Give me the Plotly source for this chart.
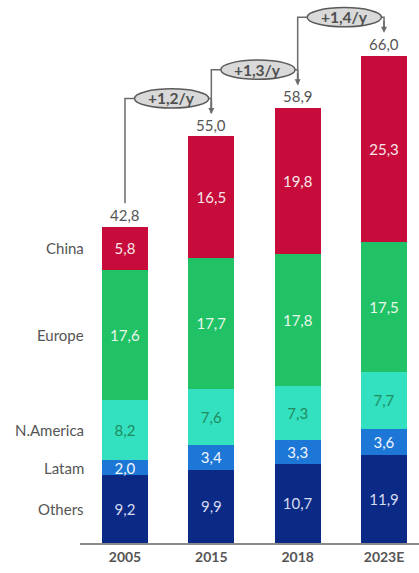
import plotly.graph_objects as go

categories = ["2005", "2015", "2018", "2023E"]
others = [9.2, 9.9, 10.7, 11.9]
latam = [2.0, 3.4, 3.3, 3.6]
namerica = [8.2, 7.6, 7.3, 7.7]
europe = [17.6, 17.7, 17.8, 17.5]
china = [5.8, 16.5, 19.8, 25.3]
totals = [42.8, 55.0, 58.9, 66.0]
growth_labels = ["+1,2/y", "+1,3/y", "+1,4/y"]
series_names = ["Others", "Latam", "N.America", "Europe", "China"]

series = [others, latam, namerica, europe, china]
colors = ["#0B2A85", "#1C77D6", "#33E0BF", "#20C265", "#C70C3B"]
text_colors = ["#D5DBF2", "#F2F6FF", "#1F8C5E", "#EAF7EC", "#F7E6EA"]

FONT = "Lato, 'Open Sans', sans-serif"
fmt = lambda v: f"{v:.1f}".replace(".", ",")

x = list(range(len(categories)))
fig = go.Figure()
for name, vals, col, tcol in zip(series_names, series, colors, text_colors):
    fig.add_trace(go.Bar(
        x=x, y=vals, name=name, marker=dict(color=col, line=dict(width=0)),
        width=0.535, text=[fmt(v) for v in vals], textposition="inside",
        insidetextanchor="middle", textangle=0,
        textfont=dict(color=tcol, size=15, family=FONT),
        constraintext="none", hoverinfo="skip",
    ))

annotations = []
# totals above bars
for i, t in enumerate(totals):
    annotations.append(dict(x=i, y=t, text=fmt(t), showarrow=False, yanchor="bottom",
                            yshift=1, font=dict(size=15, color="#555555", family=FONT)))

# series labels at the left, aligned with the 2005 segments
cum = 0
for name, vals in zip(series_names, series):
    mid = cum + vals[0] / 2
    cum += vals[0]
    annotations.append(dict(x=-0.45, y=mid, text=name, showarrow=False, xanchor="right",
                            font=dict(size=15, color="#555555", family=FONT)))

shapes = []
lc = "#6B6B6B"
for i in range(len(totals) - 1):
    y0 = totals[i] + 3.2
    lvl = totals[i + 1] + 5.2
    tip = totals[i + 1] + 3.1
    cx = i + 0.54
    hw = 0.43
    # left connector
    shapes.append(dict(type="path", xref="x", yref="y",
                       path=f"M {i},{y0} L {i},{lvl} L {cx - hw},{lvl}",
                       line=dict(color=lc, width=1.5)))
    # right connector
    shapes.append(dict(type="path", xref="x", yref="y",
                       path=f"M {cx + hw},{lvl} L {i + 1},{lvl} L {i + 1},{tip + 0.6}",
                       line=dict(color=lc, width=1.5)))
    # ellipse
    shapes.append(dict(type="circle", xref="x", yref="y",
                       x0=cx - hw, x1=cx + hw, y0=lvl - 1.3, y1=lvl + 1.3,
                       fillcolor="#D9D9D9", line=dict(color="#5A5A5A", width=1.5)))
    annotations.append(dict(x=cx, y=lvl, text=f"<b>{growth_labels[i]}</b>", showarrow=False,
                            font=dict(size=15.5, color="#505050", family=FONT)))
    # arrow head
    annotations.append(dict(x=i + 1, y=tip, ax=i + 1, ay=lvl - 0.3, xref="x", yref="y",
                            axref="x", ayref="y", text="", showarrow=True, arrowhead=2,
                            arrowsize=0.8, arrowwidth=1.5, arrowcolor=lc))

fig.update_layout(
    barmode="stack", width=419, height=573,
    margin=dict(l=80, r=0, t=0, b=30),
    paper_bgcolor="white", plot_bgcolor="white",
    showlegend=False,
    xaxis=dict(range=[-0.521, 3.405], tickvals=x, ticktext=[f"<b>{c}</b>" for c in categories],
               showline=True, linecolor="#8A8A8A", linewidth=2, showgrid=False, zeroline=False,
               ticks="", tickfont=dict(size=14, color="#555555", family=FONT)),
    yaxis=dict(range=[0, 73.53], visible=False, showgrid=False, zeroline=False),
    shapes=shapes, annotations=annotations,
    font=dict(family=FONT),
)
fig.write_html("out.html")
